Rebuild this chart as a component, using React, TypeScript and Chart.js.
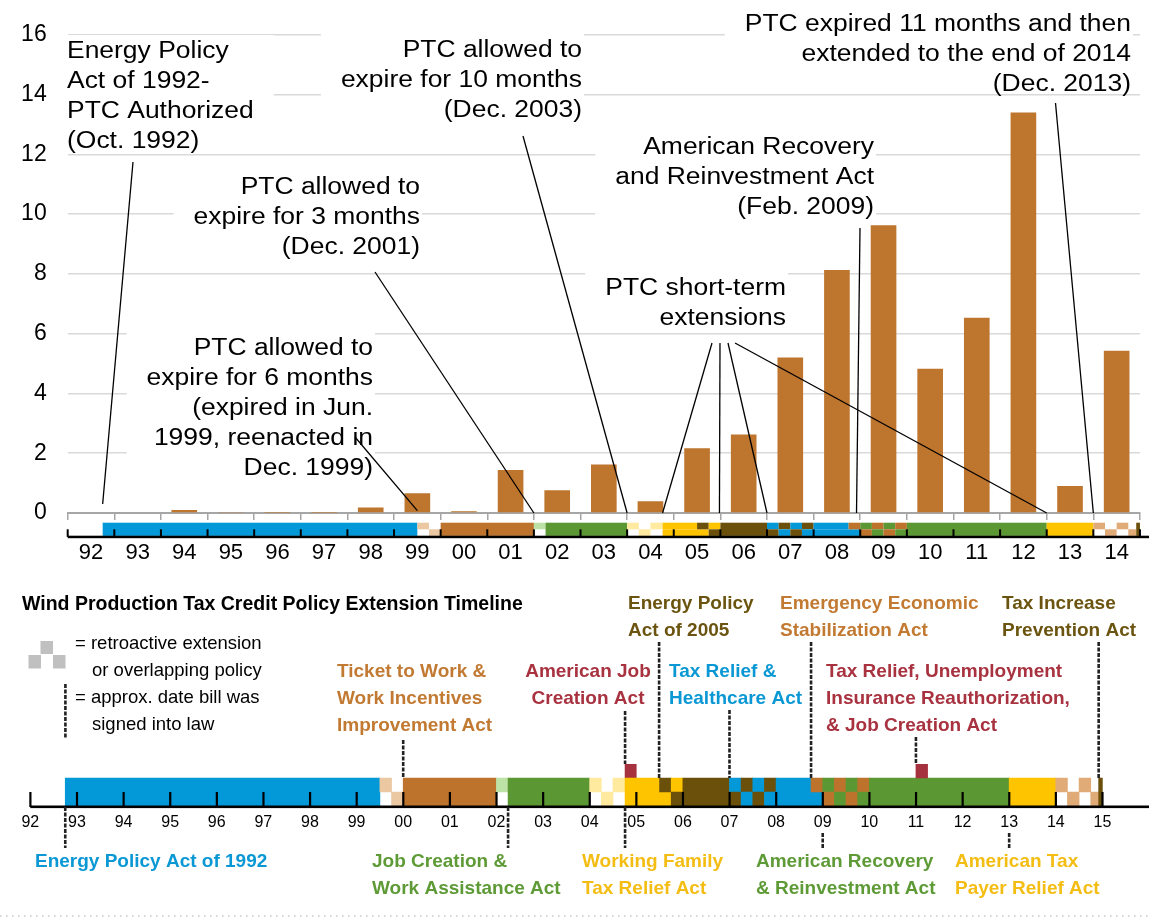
import React, { useEffect, useRef } from "react";
import { Chart, registerables } from "chart.js";

Chart.register(...registerables);

const FONT = '"Liberation Sans", Arial, Helvetica, sans-serif';

// ---------------- DATA ----------------
// Annual wind capacity additions (GW), 1992-2014
const yearLabels = ["92", "93", "94", "95", "96", "97", "98", "99", "00", "01", "02", "03", "04", "05", "06", "07", "08", "09", "10", "11", "12", "13", "14"];
const capacityGW = [0, 0, 0.1, 0.02, 0.01, 0.01, 0.18, 0.66, 0.06, 1.44, 0.76, 1.62, 0.39, 2.17, 2.63, 5.2, 8.13, 9.63, 4.83, 6.53, 13.4, 0.9, 5.43];
const yMin = 0;
const yMax = 16;
const yStep = 2;
const firstYear = 1992;

// Policy timeline cells (year fractions)
const cellStart = [1992.75, 1999.5, 1999.75, 2000.0, 2002.0, 2002.25, 2004.0, 2004.25, 2004.5, 2004.76, 2004.76, 2004.76, 2005.5, 2005.75, 2005.75, 2006.0,
  2007.0, 2007.0, 2007.25, 2007.25, 2007.5, 2007.5, 2007.75, 2007.75, 2008.0, 2008.0, 2008.75, 2009.0, 2009.0, 2009.25, 2009.25, 2009.5, 2009.5, 2009.75, 2009.75,
  2010.0, 2011.0, 2013.0, 2014.0, 2014.25, 2014.5, 2014.75, 2014.92];
const cellEnd = [1999.5, 1999.75, 2000.0, 2002.0, 2002.25, 2004.0, 2004.25, 2004.5, 2004.76, 2005.0, 2005.5, 2005.75, 2005.75, 2006.0, 2006.0, 2007.0,
  2007.25, 2007.25, 2007.5, 2007.5, 2007.75, 2007.75, 2008.0, 2008.0, 2008.75, 2009.0, 2009.0, 2009.25, 2009.25, 2009.5, 2009.5, 2009.75, 2009.75, 2010.0, 2010.0,
  2013.0, 2011.25, 2014.0, 2014.25, 2014.5, 2014.75, 2014.92, 2015.0];
const cellRow = ["full", "top", "bottom", "full", "top", "full", "top", "bottom", "top", "law", "top", "bottom", "top", "top", "bottom", "full",
  "top", "bottom", "top", "bottom", "top", "bottom", "top", "bottom", "top", "bottom", "top", "top", "bottom", "top", "bottom", "top", "bottom", "top", "bottom",
  "full", "law", "full", "top", "bottom", "top", "bottom", "full"];
const cellPolicy = ["epact92", "ticketRetro", "ticketRetro", "ticket", "jcwaRetro", "jcwa", "wftraRetro", "wftraRetro", "wftraRetro", "ajca", "wftra", "wftra", "epact05", "wftra", "epact05", "epact05",
  "trhca", "epact05", "epact05", "trhca", "trhca", "epact05", "epact05", "trhca", "trhca", "trhca", "eesa", "arra", "eesa", "eesa", "arra", "arra", "eesa", "eesa", "arra",
  "arra", "truirjca", "atra", "tipaRetro", "tipaRetro", "tipaRetro", "tipaRetro", "tipa"];

// Approximate dates bills were signed
const lawSignedYears = [1992.75, 2000.0, 2002.25, 2004.76, 2004.76, 2005.49, 2007.0, 2008.75, 2009.0, 2011.0, 2013.0, 2014.92];

// ---------------- STYLE ----------------
const BLUE = "#0399D8";
const BROWN = "#BD732C";
const TAN_LIGHT = "#EBC7A2";
const GREEN = "#5B9833";
const LIGHT_GREEN = "#BDE2A6";
const LIGHT_YELLOW = "#FFEAA0";
const GOLD = "#FFC400";
const OLIVE = "#6A500A";
const RED = "#A6323F";
const TAN2 = "#E1AB78";
const BAR = "#BE752D";

const policyColor: Record<string, string> = {
  epact92: BLUE, ticketRetro: TAN_LIGHT, ticket: BROWN, jcwaRetro: LIGHT_GREEN, jcwa: GREEN,
  wftraRetro: LIGHT_YELLOW, wftra: GOLD, ajca: RED, epact05: OLIVE, trhca: BLUE, eesa: BROWN,
  arra: GREEN, truirjca: RED, atra: GOLD, tipaRetro: TAN2, tipa: OLIVE,
};

const L_BLUE = "#0A98D5";
const L_BROWN = "#C27A33";
const L_GREEN = "#5E9A36";
const L_GOLD = "#F4BD13";
const L_OLIVE = "#6B5410";
const L_RED = "#A8323F";

// Top chart annotations (layout in px, targets in data units)
const NOTE_FONT = 23;
const NOTE_STRETCH = 1.15;
const NOTE_LH = 30;
const topNotes = [
  { lines: ["Energy Policy", "Act of 1992-", "PTC Authorized", "(Oct. 1992)"], x: 67, y: 52, align: "left",
    leaders: [{ from: [133, 162], year: 1992.75, value: 0.3 }] },
  { lines: ["PTC allowed to", "expire for 10 months", "(Dec. 2003)"], x: 582, y: 51, align: "right",
    leaders: [{ from: [523, 136], year: 2004.0, value: 0 }] },
  { lines: ["PTC allowed to", "expire for 3 months", "(Dec. 2001)"], x: 420, y: 188, align: "right",
    leaders: [{ from: [375, 272], year: 2002.0, value: 0 }] },
  { lines: ["PTC allowed to", "expire for 6 months", "(expired in Jun.", "1999, reenacted in", "Dec. 1999)"], x: 373, y: 349, align: "right",
    leaders: [{ from: [355, 437], year: 1999.5, value: 0.08 }] },
  { lines: ["PTC short-term", "extensions"], x: 786, y: 289, align: "right",
    leaders: [
      { from: [712, 343], year: 2004.76, value: 0 },
      { from: [720, 343], year: 2005.98, value: 0 },
      { from: [728, 343], year: 2007.0, value: 0 },
      { from: [735, 343], year: 2013.0, value: 0 },
    ] },
  { lines: ["American Recovery", "and Reinvestment Act", "(Feb. 2009)"], x: 874, y: 148, align: "right",
    leaders: [{ from: [860, 228], year: 2008.92, value: 0 }] },
  { lines: ["PTC expired 11 months and then", "extended to the end of 2014", "(Dec. 2013)"], x: 1131, y: 25, align: "right",
    leaders: [{ from: [1055.5, 103], year: 2014.0, value: 0 }] },
];

// Bottom section layout (page px)
const BOTTOM_TOP = 580;
const lawMarkerSpans = [[807, 848], [740, 778], [807, 848], [711, 764], [807, 848], [642, 778], [710, 778], [642, 778], [833, 848], [737, 764], [833, 848], [642, 778]];
const actLabels = [
  { lines: ["Ticket to Work &", "Work Incentives", "Improvement Act"], color: L_BROWN, x: 337, y: 672, align: "left" },
  { lines: ["American Job", "Creation Act"], color: L_RED, x: 588, y: 672, align: "center" },
  { lines: ["Energy Policy", "Act of 2005"], color: L_OLIVE, x: 628, y: 604, align: "left" },
  { lines: ["Emergency Economic", "Stabilization Act"], color: L_BROWN, x: 780, y: 604, align: "left" },
  { lines: ["Tax Increase", "Prevention Act"], color: L_OLIVE, x: 1002, y: 604, align: "left" },
  { lines: ["Tax Relief &", "Healthcare Act"], color: L_BLUE, x: 669, y: 672, align: "left" },
  { lines: ["Tax Relief, Unemployment", "Insurance Reauthorization,", "& Job Creation Act"], color: L_RED, x: 826, y: 672, align: "left" },
  { lines: ["Energy Policy Act of 1992"], color: L_BLUE, x: 35, y: 862, align: "left" },
  { lines: ["Job Creation &", "Work Assistance Act"], color: L_GREEN, x: 372, y: 862, align: "left" },
  { lines: ["Working Family", "Tax Relief Act"], color: L_GOLD, x: 582, y: 862, align: "left" },
  { lines: ["American Recovery", "& Reinvestment Act"], color: L_GREEN, x: 756, y: 862, align: "left" },
  { lines: ["American Tax", "Payer Relief Act"], color: L_GOLD, x: 955, y: 862, align: "left" },
];

function hatchLine(ctx: CanvasRenderingContext2D, x: number, y1: number, y2: number) {
  ctx.save();
  ctx.strokeStyle = "#222";
  ctx.lineWidth = 2.6;
  ctx.setLineDash([4, 1.5]);
  ctx.beginPath();
  ctx.moveTo(x, y1);
  ctx.lineTo(x, y2);
  ctx.stroke();
  ctx.restore();
}

function stretchText(ctx: CanvasRenderingContext2D, text: string, x: number, y: number, align: CanvasTextAlign, sx: number) {
  ctx.save();
  ctx.translate(x, y);
  ctx.scale(sx, 1);
  ctx.textAlign = align;
  ctx.textBaseline = "middle";
  ctx.fillText(text, 0, 0);
  ctx.restore();
}

const topOverlay = {
  id: "topOverlay",
  beforeDatasetsDraw(chart: any) {
    const ctx: CanvasRenderingContext2D = chart.ctx;
    ctx.save();
    ctx.font = `${NOTE_FONT}px ${FONT}`;
    ctx.fillStyle = "#ffffff";
    for (const a of topNotes) {
      const w = Math.max(...a.lines.map((l) => ctx.measureText(l).width)) * NOTE_STRETCH;
      const left = a.align === "left" ? a.x - 2 : a.x - w - 20;
      const right = a.align === "left" ? a.x + w + 20 : a.x + 2;
      const top = a.y - 17;
      const bottom = a.y + (a.lines.length - 1) * NOTE_LH + 9;
      ctx.fillRect(left, top, right - left, bottom - top);
    }
    ctx.restore();
  },
  afterDatasetsDraw(chart: any) {
    const ctx: CanvasRenderingContext2D = chart.ctx;
    const xs = chart.scales.x;
    const ys = chart.scales.y;
    const w = xs.getPixelForValue(1) - xs.getPixelForValue(0);
    const x0 = xs.getPixelForValue(0) - w / 2;
    const yearPx = (yr: number) => x0 + (yr - firstYear) * w;

    // leader lines
    ctx.save();
    ctx.strokeStyle = "#000";
    ctx.lineWidth = 1.3;
    for (const a of topNotes) {
      for (const l of a.leaders) {
        ctx.beginPath();
        ctx.moveTo(l.from[0], l.from[1]);
        ctx.lineTo(yearPx(l.year), ys.getPixelForValue(l.value));
        ctx.stroke();
      }
    }
    ctx.restore();

    // text
    ctx.save();
    ctx.font = `${NOTE_FONT}px ${FONT}`;
    ctx.fillStyle = "#000";
    for (const a of topNotes) {
      a.lines.forEach((line, i) => {
        stretchText(ctx, line, a.x, a.y + i * NOTE_LH, a.align as CanvasTextAlign, NOTE_STRETCH);
      });
    }
    ctx.restore();

    // policy strip under the axis
    const stripTop = 522.7;
    const rowH = 6.6;
    ctx.save();
    for (let i = 0; i < cellStart.length; i++) {
      const row = cellRow[i];
      if (row === "law") continue;
      const xa = yearPx(cellStart[i]);
      const xb = yearPx(cellEnd[i]);
      const ya = row === "bottom" ? stripTop + rowH : stripTop;
      const h = row === "full" ? rowH * 2 : rowH;
      ctx.fillStyle = policyColor[cellPolicy[i]];
      ctx.fillRect(xa, ya, xb - xa, h);
    }
    // black timeline axis with upward ticks
    const axisY = stripTop + 2 * rowH + 1;
    ctx.fillStyle = "#000";
    ctx.fillRect(x0, axisY - 1.2, chart.width - x0, 2.5);
    for (let i = 0; i <= yearLabels.length; i++) {
      const x = x0 + i * w;
      ctx.fillRect(x - 1, stripTop + rowH, 2, rowH + 1);
    }
    ctx.restore();
  },
};

const bottomOverlay = {
  id: "bottomOverlay",
  afterDatasetsDraw(chart: any) {
    const ctx: CanvasRenderingContext2D = chart.ctx;
    const xs = chart.scales.x;
    const area = chart.chartArea;
    const P = (y: number) => y - BOTTOM_TOP;

    ctx.save();
    // axis
    ctx.fillStyle = "#000";
    const xStart = xs.getPixelForValue(firstYear);
    ctx.fillRect(xStart, area.bottom - 0.5, chart.width - xStart, 2.6);
    const rowH = (area.bottom - area.top) / 3;
    for (let yr = firstYear; yr <= 2015; yr++) {
      const x = xs.getPixelForValue(yr);
      ctx.fillRect(x - 1, area.bottom - rowH, 2.2, rowH + 1);
    }

    // law markers
    lawSignedYears.forEach((yr, i) => {
      const [a, b] = lawMarkerSpans[i];
      hatchLine(ctx, xs.getPixelForValue(yr), P(a), P(b));
    });

    // title
    ctx.fillStyle = "#000";
    ctx.textBaseline = "middle";
    ctx.textAlign = "left";
    ctx.font = `bold 19.5px ${FONT}`;
    ctx.fillText("Wind Production Tax Credit Policy Extension Timeline", 22, P(605));

    // legend
    ctx.fillStyle = "#C0C0C0";
    ctx.fillRect(40.5, P(641), 12.5, 13);
    ctx.fillRect(28.5, P(655), 12.5, 13.5);
    ctx.fillRect(53, P(655), 12.5, 13.5);
    hatchLine(ctx, 65.4, P(684), P(738));
    ctx.fillStyle = "#000";
    ctx.font = `18.5px ${FONT}`;
    ctx.fillText("= retroactive extension", 75, P(644));
    ctx.fillText("or overlapping policy", 92, P(671));
    ctx.fillText("= approx. date bill was", 75, P(698));
    ctx.fillText("signed into law", 92, P(725));

    // act labels
    ctx.font = `bold 19px ${FONT}`;
    for (const lab of actLabels) {
      ctx.fillStyle = lab.color;
      ctx.textAlign = lab.align as CanvasTextAlign;
      lab.lines.forEach((line, i) => ctx.fillText(line, lab.x, P(lab.y + i * 27)));
    }

    // dotted bottom border
    ctx.strokeStyle = "#C8C8C8";
    ctx.lineWidth = 1.5;
    ctx.setLineDash([1.5, 4.5]);
    ctx.beginPath();
    ctx.moveTo(0, P(916));
    ctx.lineTo(chart.width, P(916));
    ctx.stroke();
    ctx.restore();
  },
};

export default function App() {
  const topRef = useRef<HTMLCanvasElement>(null);
  const botRef = useRef<HTMLCanvasElement>(null);

  useEffect(() => {
    Chart.defaults.font.family = FONT;
    const top = new Chart(topRef.current as HTMLCanvasElement, {
      type: "bar",
      data: {
        labels: yearLabels,
        datasets: [{
          data: capacityGW,
          backgroundColor: BAR,
          borderWidth: 0,
          barPercentage: 0.55,
          categoryPercentage: 1,
        }],
      },
      options: {
        responsive: false,
        animation: false,
        devicePixelRatio: 1,
        layout: { padding: { top: 33, right: 5.5, left: 0, bottom: 0 } },
        plugins: { legend: { display: false }, tooltip: { enabled: false }, title: { display: false } },
        scales: {
          x: {
            grid: { display: true, drawOnChartArea: false, drawTicks: true, tickLength: 7, color: "#A6A6A6", lineWidth: 1.5, offset: true },
            border: { display: true, color: "#A6A6A6", width: 2 },
            ticks: { font: { family: FONT, size: 22 }, color: "#000", padding: 20, maxRotation: 0, autoSkip: false },
            afterFit: (s: any) => { s.height = 67; },
          },
          y: {
            min: yMin,
            max: yMax,
            ticks: { stepSize: yStep, font: { family: FONT, size: 23 }, color: "#000", padding: 21 },
            grid: { color: "#D9D9D9", lineWidth: 1.5, drawTicks: false },
            border: { display: false },
            afterFit: (s: any) => { s.width = 67.7; },
          },
        },
      },
      plugins: [topOverlay],
    });

    const pts: any[] = [];
    const cols: string[] = [];
    for (let i = 0; i < cellStart.length; i++) {
      const r = cellRow[i];
      const targets = r === "full" ? ["top", "bottom"] : [r];
      for (const t of targets) {
        pts.push({ x: [cellStart[i], cellEnd[i]], y: t });
        cols.push(policyColor[cellPolicy[i]]);
      }
    }

    const bottom = new Chart(botRef.current as HTMLCanvasElement, {
      type: "bar",
      data: {
        labels: ["law", "top", "bottom"],
        datasets: [{
          data: pts,
          backgroundColor: cols,
          borderWidth: 0,
          barPercentage: 1,
          categoryPercentage: 1,
        }],
      },
      options: {
        indexAxis: "y",
        responsive: false,
        animation: false,
        devicePixelRatio: 1,
        layout: { padding: { top: 184, left: 30.3, right: 0, bottom: 0 } },
        plugins: { legend: { display: false }, tooltip: { enabled: false } },
        scales: {
          x: {
            type: "linear",
            min: 1992,
            max: 2016,
            grid: { display: false, drawTicks: false },
            border: { display: false },
            ticks: {
              stepSize: 1,
              autoSkip: false,
              maxRotation: 0,
              font: { family: FONT, size: 16 },
              color: "#000",
              padding: 7,
              callback: (v: any) => (Number(v) >= 2016 ? "" : String(Number(v) % 100).padStart(2, "0")),
            },
            afterFit: (s: any) => { s.height = 339 - 226; s.paddingLeft = 0; s.paddingRight = 0; },
          },
          y: { type: "category", display: false },
        },
      },
      plugins: [bottomOverlay],
    });

    return () => {
      top.destroy();
      bottom.destroy();
    };
  }, []);

  return (
    <div style={{ position: "absolute", left: 0, top: 0, width: 1149, height: 919, background: "#fff" }}>
      <canvas ref={topRef} width={1149} height={580} style={{ position: "absolute", left: 0, top: 0, width: 1149, height: 580 }} />
      <canvas ref={botRef} width={1149} height={339} style={{ position: "absolute", left: 0, top: 580, width: 1149, height: 339 }} />
    </div>
  );
}
